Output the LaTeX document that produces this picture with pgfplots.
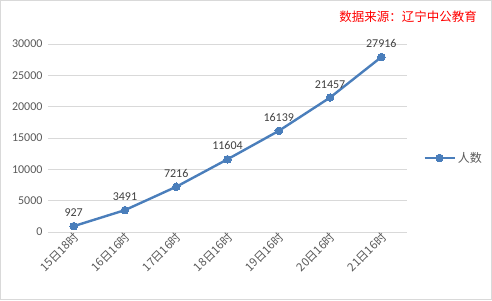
\documentclass[border=0pt]{standalone}
\usepackage{fontspec}
\setmainfont{Carlito}
\newfontfamily\cjk{Noto Sans CJK SC}
\usepackage{pgfplots}
\pgfplotsset{compat=1.18}
\definecolor{lineblue}{HTML}{4A7EBB}
\definecolor{txtgray}{HTML}{595959}
\definecolor{gridgray}{HTML}{D9D9D9}
\begin{document}
\begin{tikzpicture}[x=1pt,y=1pt]
\path[draw=gridgray,line width=1pt] (0.5,0.5) rectangle (491.5,299.5);
\node[anchor=east,text=red,font=\cjk\fontsize{12.5}{14}\selectfont,inner sep=0pt] at (477,283) {数据来源：辽宁中公教育};
\begin{axis}[
  at={(48pt,68pt)}, anchor=south west,
  scale only axis, width=359pt, height=188pt,
  xmin=-0.5, xmax=6.5, ymin=0, ymax=30000,
  xtick={0,...,6},
  xticklabels={15日18时,16日16时,17日16时,18日16时,19日16时,20日16时,21日16时},
  xticklabel style={font=\cjk\fontsize{11.5}{12}\selectfont, text=txtgray, rotate=45, anchor=east, inner sep=1pt, xshift=1pt, yshift=-4pt},
  ytick={0,5000,...,30000},
  yticklabel style={font=\fontsize{12}{14}\selectfont, text=txtgray, xshift=-2pt},
  /pgf/number format/assume math mode=true,
  /pgf/number format/1000 sep={},
  scaled y ticks=false,
  ymajorgrids, grid style={gridgray, line width=0.8pt},
  major tick length=0pt,
  axis line style={draw=none},
  clip=false,
  legend style={at={(1.045,0.394)}, anchor=west, draw=none, fill=none, font=\cjk\fontsize{12}{14}\selectfont, text=txtgray, inner sep=0pt},
  legend cell align=left,
  /pgfplots/legend image code/.code={
    \draw[#1, mark repeat=2, mark phase=2] plot coordinates {(0pt,0pt) (15pt,0pt) (30pt,0pt)};
  },
]
\addplot[color=lineblue, line width=2.4pt, mark=*, mark size=3.8pt, mark options={fill=lineblue, draw=lineblue, line width=0pt},
  nodes near coords, nodes near coords style={font=\fontsize{12}{14}\selectfont, text=black!75, yshift=6pt},
  point meta=explicit symbolic]
  coordinates {(0,927)[927] (1,3491)[3491] (2,7216)[7216] (3,11604)[11604] (4,16139)[16139] (5,21457)[21457] (6,27916)[27916]};
\addlegendentry{人数}
\end{axis}
\pgfresetboundingbox
\path (0,0) rectangle (492,300);
\end{tikzpicture}
\end{document}
